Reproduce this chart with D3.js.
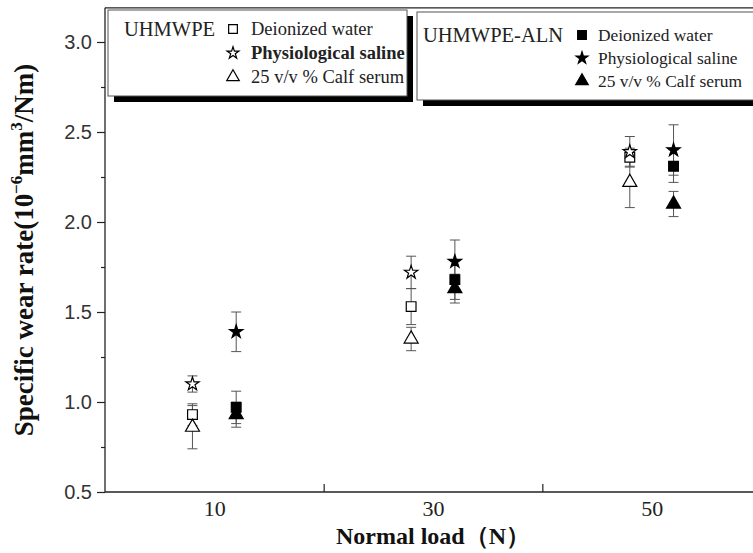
<!DOCTYPE html>
<html><head><meta charset="utf-8">
<script src="https://cdn.jsdelivr.net/npm/d3@7"></script>
<style>body{margin:0;background:#fff}svg{display:block}</style>
</head><body><svg id="c" width="753" height="553"></svg>
<script>
// ---- data ----
const loads = [10, 30, 50];
const xTickLabels = ["10", "30", "50"];
const yTicks = [0.5, 1.0, 1.5, 2.0, 2.5, 3.0];
const yMinorTicks = [0.75, 1.25, 1.75, 2.25, 2.75];
const materials = ["UHMWPE", "UHMWPE-ALN"];
const media = ["Deionized water", "Physiological saline", "25 v/v % Calf serum"];
const uhmwpeWater = [0.93, 1.53, 2.36];
const uhmwpeWaterErr = [0.06, 0.10, 0.05];
const uhmwpeSaline = [1.10, 1.72, 2.39];
const uhmwpeSalineErr = [0.045, 0.09, 0.085];
const uhmwpeSerum = [0.86, 1.35, 2.22];
const uhmwpeSerumErr = [0.12, 0.065, 0.14];
const alnWater = [0.97, 1.68, 2.31];
const alnWaterErr = [0.09, 0.11, 0.09];
const alnSaline = [1.39, 1.78, 2.40];
const alnSalineErr = [0.11, 0.12, 0.14];
const alnSerum = [0.93, 1.63, 2.10];
const alnSerumErr = [0.07, 0.08, 0.07];

const series = [
  {mat:0, med:0, v:uhmwpeWater,  e:uhmwpeWaterErr},
  {mat:0, med:1, v:uhmwpeSaline, e:uhmwpeSalineErr},
  {mat:0, med:2, v:uhmwpeSerum,  e:uhmwpeSerumErr},
  {mat:1, med:0, v:alnWater,     e:alnWaterErr},
  {mat:1, med:1, v:alnSaline,    e:alnSalineErr},
  {mat:1, med:2, v:alnSerum,     e:alnSerumErr}
];

// ---- layout ----
const svg = d3.select("#c");
const x = d3.scaleLinear().domain([0, 60]).range([105, 761]);
const y = d3.scaleLinear().domain([0.5, 3.0]).range([492, 42]);
const dodge = [-2, 2];
const serif = "'Liberation Serif','Times New Roman',serif";
const sans = "'Liberation Sans',Arial,sans-serif";

const symTypes = [d3.symbolSquare, d3.symbolStar, d3.symbolTriangle];
const symSizes = [95, 55, 85];
function sym(med, scale) {
  return d3.symbol().type(symTypes[med]).size(symSizes[med] * (scale || 1))();
}

// frame
const frame = svg.append("g").attr("stroke", "#222").attr("stroke-width", 1.3).attr("fill", "none");
frame.append("line").attr("x1", x(0)).attr("x2", x(0)).attr("y1", y(3.19)).attr("y2", y(0.5));
frame.append("line").attr("x1", x(0)).attr("x2", x(60)).attr("y1", y(3.19)).attr("y2", y(3.19));
frame.append("line").attr("x1", x(0)).attr("x2", x(60)).attr("y1", y(0.5)).attr("y2", y(0.5));

// y axis
const yAx = svg.append("g").attr("transform", `translate(${x(0)},0)`)
  .call(d3.axisLeft(y).tickValues(yTicks).tickSize(8).tickPadding(5).tickFormat(d3.format(".1f")));
yAx.select(".domain").remove();
yAx.selectAll("line").attr("stroke", "#222").attr("stroke-width", 1.2);
yAx.selectAll("text").attr("font-family", sans).attr("font-size", 20).attr("fill", "#333");
const yMin = svg.append("g").attr("transform", `translate(${x(0)},0)`)
  .call(d3.axisLeft(y).tickValues(yMinorTicks).tickSize(4).tickFormat(""));
yMin.select(".domain").remove();
yMin.selectAll("line").attr("stroke", "#222").attr("stroke-width", 1.2);

// x axis
const xAx = svg.append("g").attr("transform", `translate(0,${y(0.5)})`)
  .call(d3.axisBottom(x).tickValues([20, 40]).tickSize(-8).tickFormat(""));
xAx.select(".domain").remove();
xAx.selectAll("line").attr("stroke", "#222").attr("stroke-width", 1.2);
const xLab = svg.append("g").attr("transform", `translate(0,${y(0.5)})`)
  .call(d3.axisBottom(x).tickValues(loads).tickSize(0).tickPadding(8).tickFormat((d, i) => xTickLabels[i]));
xLab.select(".domain").remove();
xLab.selectAll("text").attr("font-family", serif).attr("font-size", 22).attr("fill", "#222");

// axis titles
svg.append("text").attr("x", x(30)).attr("y", 544).attr("text-anchor", "middle")
  .attr("font-family", serif).attr("font-weight", "bold").attr("font-size", 24).attr("fill", "#111")
  .text("Normal load（N）");
const yt = svg.append("text").attr("transform", "translate(33,250) rotate(-90)").attr("text-anchor", "middle")
  .attr("font-family", serif).attr("font-weight", "bold").attr("font-size", 27).attr("fill", "#111");
yt.append("tspan").text("Specific wear rate(10");
yt.append("tspan").attr("font-size", 17).attr("dy", -11).text("−6");
yt.append("tspan").attr("dy", 11).text("mm");
yt.append("tspan").attr("font-size", 17).attr("dy", -11).text("3");
yt.append("tspan").attr("dy", 11).text("/Nm)");

// error bars + markers
const plot = svg.append("g");
series.forEach(s => {
  s.v.forEach((v, i) => {
    const cx = x(loads[i] + dodge[s.mat]);
    const g = plot.append("g");
    g.append("line").attr("x1", cx).attr("x2", cx).attr("y1", y(v - s.e[i])).attr("y2", y(v + s.e[i]))
      .attr("stroke", "#555").attr("stroke-width", 1);
    [v - s.e[i], v + s.e[i]].forEach(t => {
      g.append("line").attr("x1", cx - 5).attr("x2", cx + 5).attr("y1", y(t)).attr("y2", y(t))
        .attr("stroke", "#555").attr("stroke-width", 1);
    });
  });
});
series.forEach(s => {
  s.v.forEach((v, i) => {
    const cx = x(loads[i] + dodge[s.mat]);
    plot.append("path").attr("d", sym(s.med)).attr("transform", `translate(${cx},${y(v)})`)
      .attr("fill", s.mat === 0 ? "#fff" : "#000").attr("stroke", "#000").attr("stroke-width", 1.2);
  });
});

// legends
const legends = [
  {bx:108, by:10, bw:299, bh:86, tx:124, mx:233, ix:251, rows:[29, 53, 77], ts:20.5, fs:18.5},
  {bx:417, by:12, bw:400, bh:88, tx:423, mx:582, ix:598, rows:[35, 58, 81], ts:20.5, fs:17.4}
];
legends.forEach((L, m) => {
  const g = svg.append("g");
  g.append("rect").attr("x", L.bx + 6).attr("y", L.by + 6).attr("width", L.bw).attr("height", L.bh).attr("fill", "#000");
  g.append("rect").attr("x", L.bx).attr("y", L.by).attr("width", L.bw).attr("height", L.bh)
    .attr("fill", "#fff").attr("stroke", "#555").attr("stroke-width", 1);
  g.append("text").attr("x", L.tx).attr("y", L.rows[0] + 7).attr("font-family", serif).attr("font-size", L.ts)
    .attr("fill", "#222").text(materials[m]);
  media.forEach((md, k) => {
    g.append("path").attr("d", sym(k, 0.8)).attr("transform", `translate(${L.mx},${L.rows[k]})`)
      .attr("fill", m === 0 ? "#fff" : "#000").attr("stroke", "#000").attr("stroke-width", 1.2);
    g.append("text").attr("x", L.ix).attr("y", L.rows[k] + 6).attr("font-family", serif).attr("font-size", L.fs)
      .attr("font-weight", (m === 0 && k === 1) ? "bold" : "normal")
      .attr("fill", "#222").text(md);
  });
});
</script></body></html>
